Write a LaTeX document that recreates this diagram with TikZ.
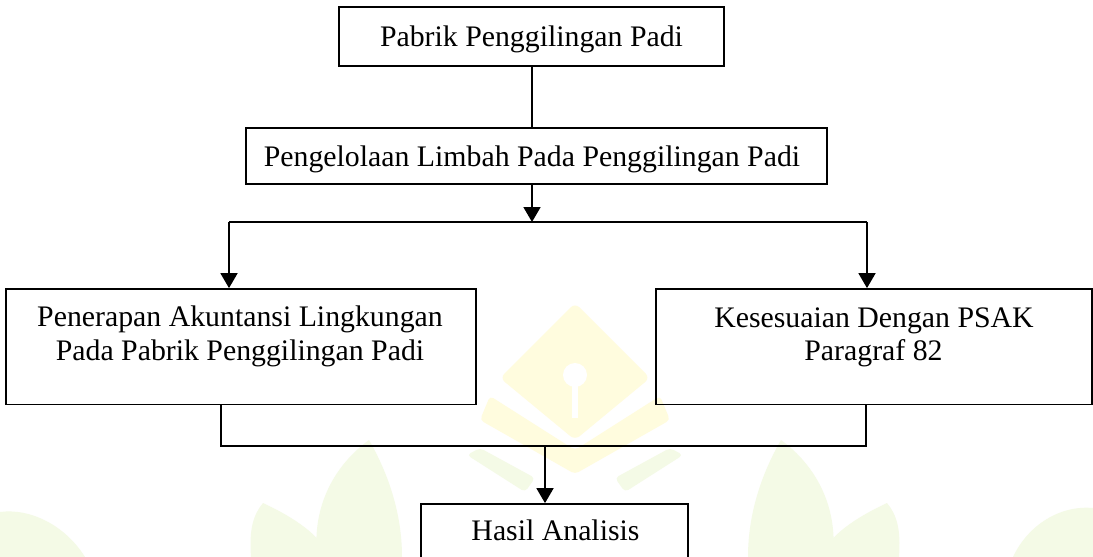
\documentclass[tikz,border=0pt]{standalone}
\usepackage{fontspec}
\setmainfont{Liberation Serif}
\usetikzlibrary{arrows.meta}
\definecolor{wmyellow}{RGB}{255,252,222}
\definecolor{wmgreen}{RGB}{244,250,230}
\begin{document}
\begin{tikzpicture}[x=1pt,y=-1pt,
  box/.style={draw, line width=1.8pt, rectangle, inner sep=0pt},
  txt/.style={anchor=base, inner sep=0pt, font=\fontsize{29.8}{34}\selectfont},
  conn/.style={line width=1.8pt},
  arr/.style={line width=1.8pt, -{Triangle[width=17pt,length=15pt]}}]
\clip (0,0) rectangle (1093,557);
\fill[white] (0,0) rectangle (1093,557);
% faint watermark (logo)
\fill[wmyellow, rounded corners=6pt] (575,303) -- (650,378) -- (575,440) -- (500,378) -- cycle;
\fill[wmyellow, rounded corners=4pt] (490,396) -- (575,450) -- (660,396) -- (670,420) -- (575,474) -- (480,420) -- cycle;
\fill[white] (575,375) circle (12);
\fill[white] (572,380) rectangle (578,418);
\fill[wmgreen, rounded corners=4pt] (467,455) -- (480,448) -- (535,478) -- (525,492) -- cycle;
\fill[wmgreen, rounded corners=4pt] (683,455) -- (670,448) -- (615,478) -- (625,492) -- cycle;
\fill[wmgreen] (317,557) .. controls (312,505) and (335,465) .. (369,440)
  .. controls (392,480) and (402,520) .. (402,557) -- cycle;
\fill[wmgreen] (833,557) .. controls (838,505) and (815,465) .. (781,440)
  .. controls (758,480) and (748,520) .. (748,557) -- cycle;
\fill[wmgreen] (251,557) .. controls (249,530) and (253,515) .. (263,503)
  .. controls (295,518) and (320,535) .. (330,557) -- cycle;
\fill[wmgreen] (899,557) .. controls (901,530) and (897,515) .. (887,503)
  .. controls (855,518) and (830,535) .. (820,557) -- cycle;
\fill[wmgreen] (0,557) -- (0,512) .. controls (30,508) and (65,525) .. (85,557) -- cycle;
\fill[wmgreen] (1093,557) -- (1093,508) .. controls (1060,505) and (1028,525) .. (1013,557) -- cycle;

% boxes
\node[box, minimum width=385pt, minimum height=59pt] (top) at (531.5,36.5) {};
\node[box, minimum width=581pt, minimum height=56pt] (second) at (536.5,156) {};
\node[box, minimum width=470pt, minimum height=115.5pt] (left) at (241,346.75) {};
\node[box, minimum width=436pt, minimum height=115.5pt] (right) at (874,346.75) {};
\node[box, fill=white, minimum width=267pt, minimum height=96pt] (hasil) at (554.5,552) {};

% texts
\node[txt] (t1) at (531.5,46) {Pabrik Penggilingan Padi};
\node[txt] (t2) at (532,166) {Pengelolaan Limbah Pada Penggilingan Padi};
\node[txt] (t3a) at (240,326.7) {Penerapan Akuntansi Lingkungan};
\node[txt] (t3b) at (240,360.7) {Pada Pabrik Penggilingan Padi};
\node[txt] (t4a) at (874,327) {Kesesuaian Dengan PSAK};
\node[txt] (t4b) at (873.5,360.7) {Paragraf 82};
\node[txt] (t5) at (555.5,540) {Hasil Analisis};

% connectors
\coordinate (c1) at (532,0);
\coordinate (j1) at (532,222);
\coordinate (jl) at (229,222);
\coordinate (jr) at (867,222);
\coordinate (bl) at (221,446);
\coordinate (br) at (866,446);
\coordinate (j2) at (545,446);
\draw[conn] (top.south -| c1) -- (second.north -| c1);
\draw[arr] (second.south -| c1) -- (j1);
\draw[conn] (jl) -- (jr);
\draw[arr] (jl) -- (jl |- left.north);
\draw[arr] (jr) -- (jr |- right.north);
\draw[conn] (bl |- left.south) -- (bl) -- (br) -- (br |- right.south);
\draw[arr] (j2) -- (j2 |- hasil.north);
\end{tikzpicture}
\end{document}
